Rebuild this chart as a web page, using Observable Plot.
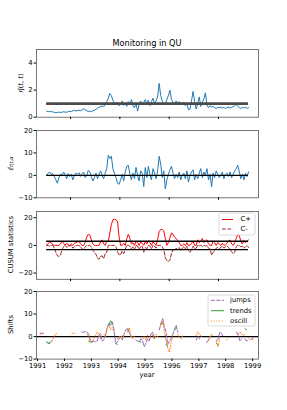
<!DOCTYPE html>
<html><head><meta charset="utf-8">
<script src="https://cdn.jsdelivr.net/npm/d3@7"></script>
<script src="https://cdn.jsdelivr.net/npm/@observablehq/plot@0.6"></script>
<style>
body{margin:0;background:#fff;}
#c{position:relative;width:287px;height:410px;font-family:"DejaVu Sans",sans-serif;overflow:hidden;}
#c svg{position:absolute;left:0;overflow:visible;}
</style></head><body><div id="c"></div>
<script>
const _ = null;
const startYear = 1991.03;
const stepYear = 1 / 16;

const eta = [
0.45,0.42,0.40,0.43,0.38,0.36,0.33,0.35,0.38,0.34,
0.37,0.40,0.38,0.36,0.41,0.44,0.42,0.47,0.50,0.46,
0.49,0.52,0.48,0.55,0.62,0.55,0.48,0.42,0.45,0.40,
0.47,0.52,0.58,0.65,0.75,0.78,0.82,0.80,0.90,1.15,
1.40,1.75,1.60,1.25,1.05,0.90,1.10,0.85,0.95,1.20,
0.88,1.00,0.80,1.15,0.95,1.30,0.85,0.70,1.05,0.45,
0.95,1.20,0.90,1.10,1.30,1.00,1.25,0.85,1.15,1.40,
1.00,1.20,1.50,2.50,1.60,1.20,1.05,0.90,1.30,1.60,
2.00,1.30,1.10,0.95,1.20,1.05,1.15,0.90,1.05,1.10,
0.85,1.00,0.55,0.60,1.20,1.90,1.20,0.60,1.00,1.50,
0.80,1.10,1.35,1.80,0.90,0.70,0.85,0.75,0.80,0.70,
0.65,0.72,0.70,0.75,0.68,0.72,0.65,0.70,0.75,0.68,
0.72,0.78,0.85,0.95,0.80,0.70,0.65,0.72,0.68,0.75,
0.65,0.70];

const epsilon = [
0.0,1.0,1.5,0.5,0.8,-0.5,-2.0,-3.5,-1.0,0.5,
0.0,1.5,0.5,-1.5,0.8,-0.5,0.5,-2.0,0.0,1.0,
0.5,1.2,-0.5,0.8,1.5,-1.0,0.0,2.2,1.5,-0.5,
-2.5,-1.0,1.0,-1.5,0.5,2.0,0.0,-1.5,1.0,3.0,
9.0,7.5,8.5,3.0,1.0,-1.0,-3.5,-4.0,-2.0,0.5,
-2.5,1.5,4.0,4.5,0.5,-2.0,1.0,-1.5,3.5,0.0,
-2.5,2.0,1.0,-5.0,3.5,-1.0,4.0,0.5,-2.0,3.0,
1.0,-1.5,2.0,8.5,5.0,-1.0,2.0,-6.0,-2.0,0.5,
2.5,4.0,1.0,-1.5,0.5,-1.0,1.5,-2.0,0.0,1.0,
-1.5,2.0,-3.0,0.0,1.5,2.5,-2.0,0.5,-1.5,1.0,
3.0,-1.0,1.5,0.0,3.0,-2.0,0.5,-5.0,1.0,-1.0,
2.0,0.5,-1.0,0.0,1.5,-1.5,0.5,1.0,-0.5,1.5,
-1.0,0.5,2.0,3.0,4.5,1.5,-1.5,0.5,-2.0,1.0,
-0.5,1.5];

const cPlus = [
0,1.5,2.5,2.0,0.5,0,0,0,0,1.0,
3.0,1.5,0,1.5,0.5,0,1.0,0,1.5,2.0,
2.5,3.0,1.0,0,0,2.0,6.0,8.0,7.5,4.0,
1.0,0,0,0,0,2.5,4.0,1.0,0,3.0,
3.0,9.0,15.0,18.5,19.0,18.5,17.5,6.0,0,0,
1.5,0,5.0,8.0,5.0,1.0,2.0,0,3.0,2.0,
0,2.5,1.5,0,3.0,1.0,3.5,2.0,0,2.5,
1.5,0,4.0,10.0,11.5,11.5,10.5,5.0,0,2.0,
5.5,9.0,8.0,6.0,5.0,3.5,2.0,0,0,1.0,
0,2.0,0,0,1.5,3.0,0,0,4.0,2.0,
3.0,5.0,2.0,3.5,4.0,1.0,0,0,3.0,2.0,
0,2.0,1.0,0,1.5,0,0.5,1.5,3.0,4.0,
1.0,0,2.0,5.0,8.0,7.0,3.0,1.0,3.5,2.0,
3.0,4.0];

const cMinus = [
0,0,-0.5,0,0,-2.0,-5.0,-7.5,-8.0,-7.0,
-3.0,-1.0,0,-1.5,0,-0.5,0,-2.0,-1.0,0,
0,0,-1.0,-2.5,-3.0,-1.0,0,0,0,-1.0,
-3.5,-5.0,-6.5,-9.0,-10.0,-8.0,-7.5,-9.5,-6.0,-5.0,
0,0,0,0,0,-1.0,-4.5,-7.0,-6.5,-4.0,
-6.0,-3.0,0,0,-0.5,-2.5,-1.0,-3.0,0,-0.5,
-3.0,-1.0,-0.5,-5.0,-1.5,-2.5,0,-0.5,-2.5,0,
-0.5,-2.0,0,0,0,-1.0,-3.0,-9.0,-11.0,-11.5,
-10.5,-6.0,-3.0,-3.5,-2.0,-3.0,-1.5,-3.5,-2.0,-1.0,
-2.5,-0.5,-3.5,-5.0,-3.0,-0.5,-2.5,-2.0,0,0,
0,-1.0,0,-0.5,0,-2.0,-2.5,-7.0,-5.0,-4.0,
-2.0,-1.5,-2.5,-1.5,-0.5,-2.0,-1.0,-0.5,-1.5,-3.0,
-4.5,-6.0,-5.0,-1.0,0,0,-1.0,-0.5,-2.0,-1.0,
0,-1.5];

const jumps = [
_,1.5,1.3,1.5,_,-2.5,-3,-3,-2,_,
_,_,_,_,_,_,_,_,_,_,
_,_,_,_,_,_,2,2,2.2,2,
1,-2,-2.2,-2,-2.3,-2,0.5,1.5,-2,-1.5,
1,4,6,5,6.5,3,-3,-2.5,-1,0,
-1.5,1,3,3.5,2,0,_,_,-1.5,-2,
-2.5,-1,-2,-4.5,-3,-1,-2,1,2,-1,
0.5,_,3,6,8,4.5,2,-3.5,-2,-1,
1,3,5,2,_,_,_,_,_,_,
_,_,_,_,-1.5,0,-1,_,_,_,
-2.5,-2,0,_,_,_,-2,-1,2,1.5,
0,_,_,_,_,_,_,_,2,0.5,
-2,-1,_,-1,-2,-1.5,_,-1,-0.5,_,
_,_];

const trends = [
_,_,_,_,_,-2.5,-3,-2.5,_,_,
_,_,_,_,_,_,_,_,_,_,
_,_,_,_,_,_,_,_,_,_,
-2,-2.5,-2.5,_,_,_,_,_,_,_,
_,_,5,7,6,_,-3,-3.5,_,_,
_,_,_,3,3,_,_,_,_,_,
-2,-2.5,_,_,_,_,_,_,_,_,
_,_,_,5.5,6,_,-3.5,-4.5,_,_,
_,3,3.5,_,_,_,_,_,_,_,
_,_,_,_,_,_,_,_,_,_,
_,_,_,_,_,_,-3,-4,_,_,
_,_,_,_,_,_,_,_,_,_,
_,_,_,3.5,3,_,_,_,_,_,
_,_];

const oscill = [
_,1.0,1.6,1.2,_,_,_,_,-2,-0.5,
1,1.5,_,_,_,_,_,_,_,_,
1.2,1.8,1.2,_,_,_,_,_,_,1,
-0.5,-2,-2.2,-1,0.5,2,1,-1,_,1,
0,4,5,3,4,2,_,-1,0,-0.5,
0.5,0,_,2,4,1,-1,0,_,_,
_,_,-1,0,-1.5,0.5,-1,_,0.5,-1,
1,0,_,5,7,2,-2,-5,-7,-3,
1,_,_,1,-0.5,-1,0.5,_,_,_,
_,_,_,_,0.5,2,1,0,_,_,
_,-2,-1,1,0.5,_,-2,-4.5,-1,_,
_,_,-1.5,-0.5,_,_,_,_,_,1,
2,1.5,0.5,1,_,-0.5,-1.5,-1,-1.5,_,
_,_];

const etaThreshold = 1;
const cusumLimit = 3;
const topTicks = [1992, 1994, 1996, 1998];
const yearTicks = [1991, 1992, 1993, 1994, 1995, 1996, 1997, 1998, 1999];
const etaTicks = [0, 2, 4];
const epsTicks = [-10, 0, 10, 20];
const cusumTicks = [-20, 0, 20];
const shiftTicks = [-10, 0, 10, 20];
const topDomain = [1990.62, 1999.62];
const bottomDomain = [1990.96, 1999.22];

const years = eta.map((v, i) => startYear + i * stepYear);
const rows = years.map((year, i) => ({
  year, eta: eta[i], epsilon: epsilon[i], cPlus: cPlus[i], cMinus: cMinus[i],
  jumps: jumps[i], trends: trends[i], oscill: oscill[i]
}));
const x0 = years[0], x1 = years[years.length - 1];

const container = document.getElementById("c");
const FONT = '"DejaVu Sans", sans-serif';
const numFmt = d => (d < 0 ? "\u2212" : "") + Math.abs(d);

function panel(cfg) {
  const mt = 6, fh = cfg.bottom - cfg.top, mb = cfg.mb ?? 6;
  const svg = Plot.plot({
    width: 287, height: mt + fh + mb,
    marginTop: mt, marginBottom: mb, marginLeft: 36, marginRight: 29,
    style: {fontFamily: FONT, fontSize: "6.8px", color: "#000", background: "transparent", overflow: "visible"},
    x: {domain: cfg.xDomain},
    y: {domain: cfg.yDomain},
    marks: [
      ...cfg.marks,
      Plot.frame({stroke: "#555", strokeWidth: 0.8}),
      Plot.axisX({ticks: cfg.xTicks, tickSize: 2.4, tickPadding: 1.5, tickFormat: cfg.xLabels ? d => String(d) : () => "", label: null}),
      Plot.axisY({ticks: cfg.yTicks, tickSize: 2.4, tickPadding: 1.5, tickFormat: numFmt, label: null})
    ]
  });
  svg.style.top = (cfg.top - mt) + "px";
  container.appendChild(svg);
  return svg;
}

panel({top: 49, bottom: 116.7, xDomain: topDomain, xTicks: topTicks, yDomain: [0, 5], yTicks: etaTicks,
  marks: [
    Plot.line(rows, {x: "year", y: "eta", stroke: "#1f77b4", strokeWidth: 1}),
    Plot.ruleY([etaThreshold], {x1: x0, x2: x1, stroke: "#4a4a4a", strokeWidth: 2.7})
  ]});

panel({top: 130, bottom: 197.3, xDomain: topDomain, xTicks: topTicks, yDomain: [-10, 20], yTicks: epsTicks,
  marks: [
    Plot.line(rows, {x: "year", y: "epsilon", stroke: "#1f77b4", strokeWidth: 1}),
    Plot.ruleY([0], {x1: x0, x2: x1, stroke: "#000", strokeWidth: 1.3})
  ]});

panel({top: 210.5, bottom: 278.3, xDomain: topDomain, xTicks: topTicks, yDomain: [-24.5, 24.5], yTicks: cusumTicks,
  marks: [
    Plot.line(rows, {x: "year", y: "cPlus", stroke: "red", strokeWidth: 1}),
    Plot.line(rows, {x: "year", y: "cMinus", stroke: "brown", strokeWidth: 1, strokeDasharray: "3.8,1.6"}),
    Plot.ruleY([cusumLimit, -cusumLimit], {x1: x0, x2: x1, stroke: "#000", strokeWidth: 1.3})
  ]});

panel({top: 290.7, bottom: 358.3, mb: 30, xDomain: bottomDomain, xTicks: yearTicks, xLabels: true, yDomain: [-10, 20], yTicks: shiftTicks,
  marks: [
    Plot.ruleY([0], {stroke: "#000", strokeWidth: 1.3}),
    Plot.line(rows, {x: "year", y: "jumps", stroke: "#9467bd", strokeWidth: 1, strokeDasharray: "3.8,1.6"}),
    Plot.line(rows, {x: "year", y: "trends", stroke: "#2ca02c", strokeWidth: 1}),
    Plot.line(rows, {x: "year", y: "oscill", stroke: "#ff7f0e", strokeWidth: 1, strokeDasharray: "1,1.7"})
  ]});

// overlay for texts and legends
const ov = d3.select(container).append("svg")
  .attr("width", 287).attr("height", 410).style("top", "0px")
  .attr("font-family", FONT).attr("font-size", 6.8);

ov.append("text").attr("x", 147).attr("y", 43.5).attr("text-anchor", "middle")
  .attr("dominant-baseline", "middle").attr("font-size", 8.2).text("Monitoring in QU");

function yLabel(x, y) {
  return ov.append("text").attr("transform", `translate(${x},${y}) rotate(-90)`)
    .attr("text-anchor", "middle").attr("dominant-baseline", "middle");
}
const l1 = yLabel(20.5, 83);
l1.append("tspan").attr("font-style", "italic").text("η̂");
l1.append("tspan").text("(");
l1.append("tspan").attr("font-style", "italic").text("t");
l1.append("tspan").text(", ");
l1.append("tspan").attr("font-style", "italic").text("t");
l1.append("tspan").text(")");

const l2 = yLabel(10.5, 163.5);
l2.append("tspan").attr("font-style", "italic").text("ε̂");
l2.append("tspan").attr("font-style", "italic").attr("font-size", 5).attr("dy", 1.6).text("t|t,α");

yLabel(11.5, 244.5).text("CUSUM statistics");
yLabel(11.5, 324.5).text("Shifts");

ov.append("text").attr("x", 147).attr("y", 375.5).attr("text-anchor", "middle")
  .attr("dominant-baseline", "middle").text("year");

function legend(box, items) {
  ov.append("rect").attr("x", box.x).attr("y", box.y).attr("width", box.w).attr("height", box.h)
    .attr("rx", 1.5).attr("fill", "#fff").attr("fill-opacity", 0.8).attr("stroke", "#ccc").attr("stroke-width", 0.7);
  items.forEach(it => {
    const ln = ov.append("line").attr("x1", box.lx0).attr("x2", box.lx1).attr("y1", it.y).attr("y2", it.y)
      .attr("stroke", it.color).attr("stroke-width", 1);
    if (it.dash) ln.attr("stroke-dasharray", it.dash);
    ov.append("text").attr("x", box.tx).attr("y", it.y).attr("dominant-baseline", "middle").text(it.label);
  });
}
legend({x: 219, y: 213, w: 36, h: 22, lx0: 222, lx1: 233, tx: 240.5}, [
  {label: "C+", color: "red", y: 219.5},
  {label: "C-", color: "brown", dash: "3.8,1.6", y: 229}
]);
legend({x: 208, y: 295, w: 47, h: 31, lx0: 211, lx1: 224, tx: 230}, [
  {label: "jumps", color: "#9467bd", dash: "3.8,1.6", y: 300.3},
  {label: "trends", color: "#2ca02c", y: 310.7},
  {label: "oscill", color: "#ff7f0e", dash: "1,1.7", y: 321}
]);
</script></body></html>
